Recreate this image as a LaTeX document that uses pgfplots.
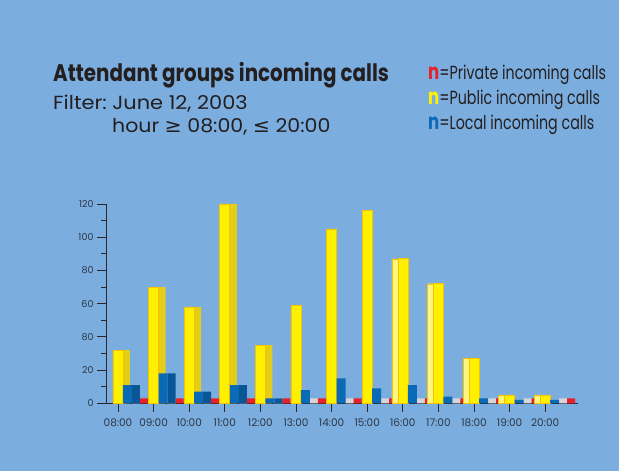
\documentclass[border=0pt]{standalone}
\usepackage{pgfplots}
\pgfplotsset{compat=1.18}
\usepackage{pgfplotstable}
\usepackage{graphicx}
\usepackage{fontspec}
\setmainfont{Poppins}
\newfontfamily\sym{DejaVu Sans}
\frenchspacing

\definecolor{bg}{RGB}{123,173,222}
\definecolor{ylw}{RGB}{255,240,0}
\definecolor{ylwdark}{RGB}{228,205,25}
\definecolor{ylwlight}{RGB}{255,245,130}
\definecolor{ylwedge}{RGB}{245,195,0}
\definecolor{blu}{RGB}{10,106,182}
\definecolor{bludark}{RGB}{8,86,150}
\definecolor{blutop}{RGB}{45,130,200}
\definecolor{rd}{RGB}{232,32,42}
\definecolor{flr}{RGB}{214,214,218}
\definecolor{txt}{RGB}{35,31,32}
\definecolor{tickc}{RGB}{45,55,70}
\definecolor{axisc}{RGB}{40,40,45}

\pgfplotstableread{
idx pub loc priv
0 32 11 0
1 70 18 0
2 58 7 0
3 120 11 0
4 35 3 0
5 59 8 0
6 105 15 0
7 116 9 0
8 87 11 0
9 72 4 0
10 27 3 0
11 5 2 0
12 5 2 0
}\calls

\newcommand{\legn}[1]{{\fontsize{22}{22}\selectfont\bfseries\textcolor{#1}{n}}}

\begin{document}
\begin{tikzpicture}
\fill[bg] (0,0) rectangle (619pt,471pt);

\node[anchor=base west, inner sep=0, text=txt] at (53pt,389pt)
  {\scalebox{0.827}[1]{\fontsize{24}{28}\selectfont\bfseries Attendant groups incoming calls}};
\node[anchor=base west, inner sep=0, text=txt] at (53pt,361pt)
  {\scalebox{1.1}[1]{\fontsize{19}{22}\selectfont Filter: June 12, 2003}};
\node[anchor=base west, inner sep=0, text=txt] at (112pt,338pt)
  {\scalebox{1.08}[1]{\fontsize{19}{22}\selectfont hour {\sym ≥} 08:00, {\sym ≤} 20:00}};

\node[anchor=base west, inner sep=0, text=txt] at (428pt,391pt)
  {\scalebox{0.75}[1]{\fontsize{19}{22}\selectfont\legn{rd}=Private incoming calls}};
\node[anchor=base west, inner sep=0, text=txt] at (428pt,366pt)
  {\scalebox{0.75}[1]{\fontsize{19}{22}\selectfont\legn{ylw}=Public incoming calls}};
\node[anchor=base west, inner sep=0, text=txt] at (428pt,341pt)
  {\scalebox{0.75}[1]{\fontsize{19}{22}\selectfont\legn{blu}=Local incoming calls}};

\begin{axis}[
  at={(106pt,67.7pt)}, anchor=south west,
  x=35.6pt, y=1.661pt,
  xmin=-0.337, xmax=12.92, ymin=0, ymax=120,
  axis lines*=left,
  axis line style={draw=axisc, line width=0.8pt},
  xtick={0,...,12},
  xticklabels={08:00,09:00,10:00,11:00,12:00,13:00,14:00,15:00,16:00,17:00,18:00,19:00,20:00},
  ytick={0,20,...,120},
  yticklabels={0,20,80,60,80,100,120},
  minor ytick={10,30,...,110},
  tick align=outside,
  major tick length=9pt, minor tick length=5pt,
  tick style={draw=axisc, line width=0.8pt},
  xticklabel style={font=\fontsize{10.5}{12}\selectfont, text=tickc, yshift=-3pt},
  yticklabel style={font=\fontsize{9.5}{11}\selectfont, text=tickc},
  clip=false,
]
% floor slab and private calls
\addplot[ybar, bar width=8pt, bar shift=18pt, fill=flr, draw=none]
  table[x=idx, y expr=\thisrow{priv}+3]{\calls};
\addplot[ybar, bar width=8pt, bar shift=26pt, fill=rd, draw=none]
  table[x=idx, y expr=\thisrow{priv}+3]{\calls};
% public: side faces
\addplot[ybar, bar width=7pt, bar shift=8.5pt, fill=ylwdark, draw=none,
  restrict x to domain=0:4]
  table[x=idx, y=pub]{\calls};
\addplot[ybar, bar width=6pt, bar shift=-8pt, fill=ylwlight, draw=ylwedge, line width=0.4pt,
  restrict x to domain=8:12]
  table[x=idx, y=pub]{\calls};
% public: front
\addplot[ybar, bar width=10pt, bar shift=0pt, fill=ylw, draw=ylwedge, line width=0.6pt]
  table[x=idx, y=pub]{\calls};
% local: side faces
\addplot[ybar, bar width=8pt, bar shift=18pt, fill=bludark, draw=none,
  restrict x to domain=0:4]
  table[x=idx, y=loc]{\calls};
% local: front
\addplot[ybar, bar width=9pt, bar shift=9.5pt, fill=blu, draw=none]
  table[x=idx, y=loc]{\calls};
\end{axis}

\pgfresetboundingbox
\path[use as bounding box] (0,0) rectangle (619pt,471pt);
\end{tikzpicture}
\end{document}
